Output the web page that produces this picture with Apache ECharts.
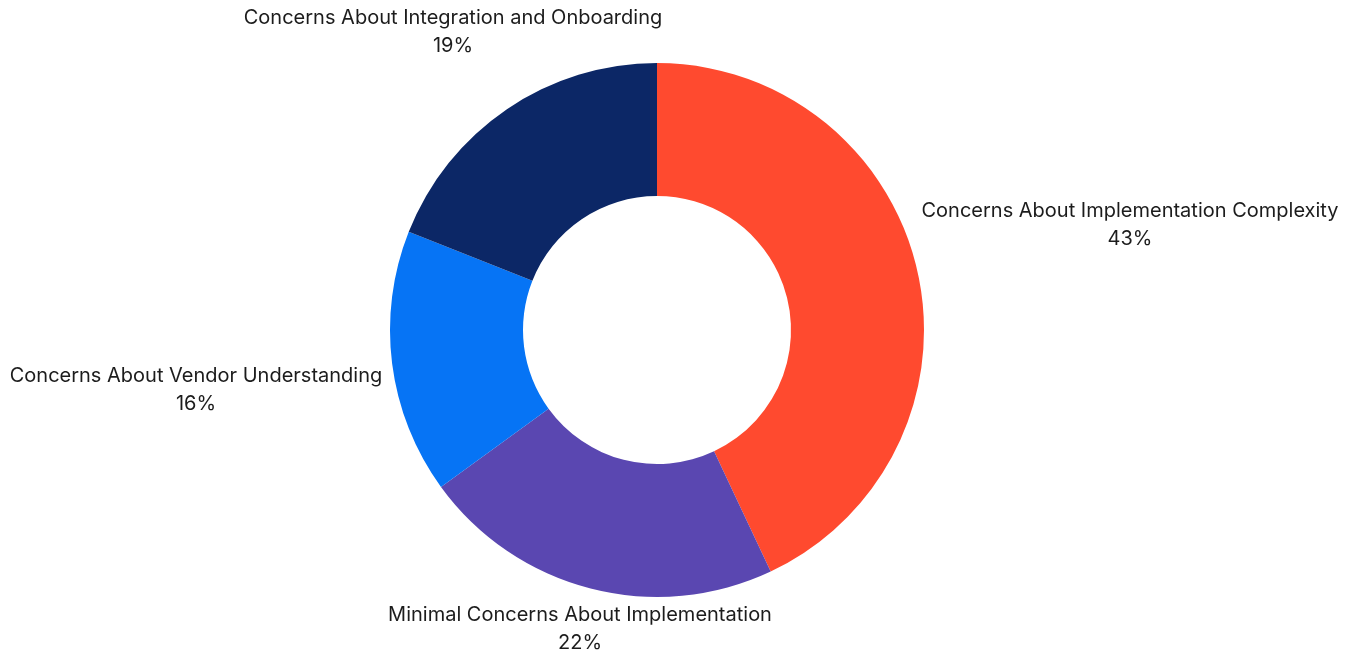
<!DOCTYPE html>
<html>
<head>
<meta charset="utf-8">
<title>Implementation Concerns</title>
<script src="https://cdn.jsdelivr.net/npm/echarts@6/dist/echarts.min.js"></script>
<style>
  html, body { margin: 0; padding: 0; background: #ffffff; }
  #chart { width: 1356px; height: 653px; }
</style>
</head>
<body>
<div id="chart"></div>
<script>
// Share of respondents by type of implementation concern
const categories = [
  'Concerns About Implementation Complexity',
  'Minimal Concerns About Implementation',
  'Concerns About Vendor Understanding',
  'Concerns About Integration and Onboarding'
];
const shares = [43, 22, 16, 19];
const colors = ['#FF4A2F', '#5A47B1', '#0674F5', '#0C2766'];

// Label block centres (px) for each slice, in category order
const labelSpots = [
  [1130, 225],
  [580, 629],
  [196, 390],
  [453, 32]
];

const chart = echarts.init(document.getElementById('chart'), null, { renderer: 'canvas' });

chart.setOption({
  animation: false,
  backgroundColor: '#ffffff',
  series: [{
    type: 'pie',
    center: [657, 330],
    radius: [134, 267],
    startAngle: 90,
    clockwise: true,
    avoidLabelOverlap: false,
    itemStyle: { borderWidth: 0 },
    label: {
      show: true,
      position: 'outside',
      formatter: '{b}\n{d}%',
      fontFamily: 'Inter, "Noto Sans", sans-serif',
      fontSize: 20,
      lineHeight: 28,
      color: '#1c1c1c',
      align: 'center'
    },
    labelLine: { show: false },
    labelLayout: function (params) {
      const p = labelSpots[params.dataIndex];
      return { x: p[0], y: p[1], align: 'center', verticalAlign: 'middle' };
    },
    data: categories.map(function (name, i) {
      return { name: name, value: shares[i], itemStyle: { color: colors[i] } };
    })
  }]
});
</script>
</body>
</html>
